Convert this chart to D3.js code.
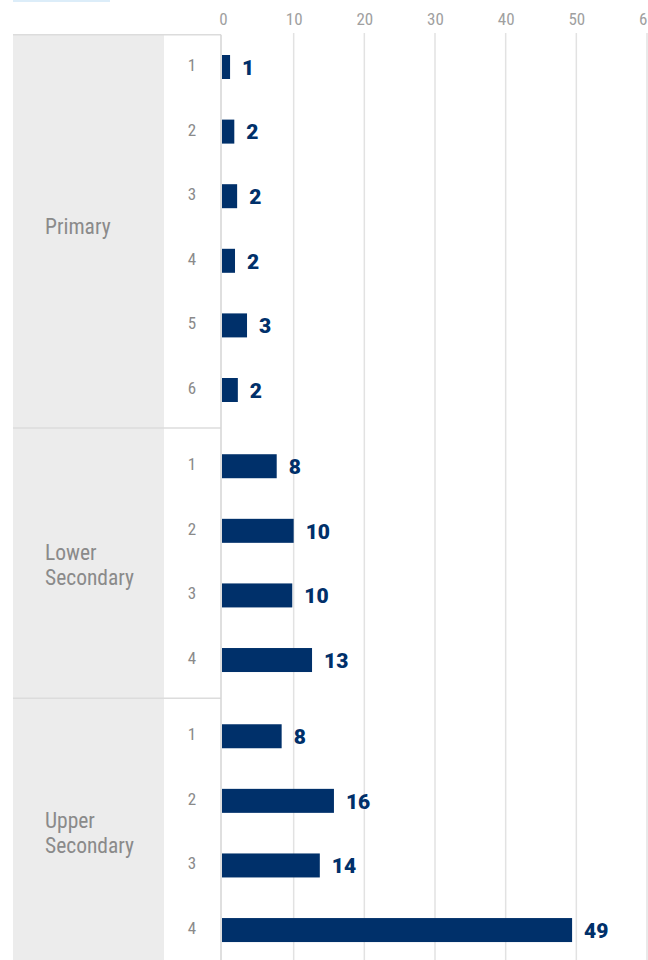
<!DOCTYPE html>
<html><head><meta charset="utf-8">
<script src="https://cdn.jsdelivr.net/npm/d3@7"></script>
<style>
body{margin:0;background:#fff;}
svg{display:block;}
.cond{font-family:"Roboto Condensed","Liberation Sans Narrow","DejaVu Sans Condensed",sans-serif;}
.val{font-family:Roboto,"Liberation Sans",sans-serif;font-weight:900;}
</style>
</head><body>
<svg id="c" width="648" height="960"></svg>
<script>
const groups = ["Primary", "Lower Secondary", "Upper Secondary"];
const groupOf = [0,0,0,0,0,0, 1,1,1,1, 2,2,2,2];
const grades = ["1","2","3","4","5","6","1","2","3","4","1","2","3","4"];
const values = [1.0, 1.6, 2.0, 1.7, 3.4, 2.1, 7.6, 10.0, 9.8, 12.6, 8.3, 15.7, 13.7, 49.4];
const ticks = [0, 10, 20, 30, 40, 50, 60];

const svg = d3.select("#c");
const navy = "#00306a";
const x = d3.scaleLinear().domain([0, 60]).range([223, 647]);
const gapFrac = 0.18;
const pos = (i, g) => i + g * gapFrac;
const y = d3.scaleLinear().domain([0, 1]).range([67, 67 + 64.6]);
const barH = 24;

// top light blue strip
svg.append("rect").attr("x", 13).attr("y", 0).attr("width", 97).attr("height", 2).attr("fill", "#dcedf9");

// group bounds
const gBounds = groups.map((g, gi) => {
  const idx = groupOf.map((d, i) => d === gi ? i : -1).filter(i => i >= 0);
  const top = y(pos(idx[0], gi) - 0.5 - (gi > 0 ? gapFrac / 2 : 0));
  const bot = y(pos(idx[idx.length - 1], gi) + 0.5 + (gi < groups.length - 1 ? gapFrac / 2 : 0));
  return {name: g, top, bot: gi === groups.length - 1 ? 970 : bot};
});

// grey label band
svg.append("rect").attr("x", 13).attr("y", gBounds[0].top).attr("width", 151).attr("height", 960 - gBounds[0].top).attr("fill", "#ececec");

// gridlines
svg.selectAll("line.grid").data(ticks.filter(t => t > 0)).join("line")
  .attr("x1", d => x(d)).attr("x2", d => x(d))
  .attr("y1", 33).attr("y2", 960)
  .attr("stroke", "#e2e2e2").attr("stroke-width", 1.5);

// group separators
svg.selectAll("line.sep").data(gBounds).join("line")
  .attr("x1", 13).attr("x2", 221)
  .attr("y1", d => d.top).attr("y2", d => d.top)
  .attr("stroke", "#dcdcdc").attr("stroke-width", 1.5);

// axis vertical line
svg.append("line").attr("x1", 221).attr("x2", 221).attr("y1", gBounds[0].top).attr("y2", 960)
  .attr("stroke", "#d4d4d4").attr("stroke-width", 1.5);

// top axis tick labels
const axis = d3.axisTop(x).tickValues(ticks).tickSize(0).tickPadding(0).tickFormat(d3.format("d"));
const ax = svg.append("g").attr("transform", "translate(0,25)").call(axis);
ax.select(".domain").remove();
ax.selectAll("text").attr("class", "cond").attr("fill", "#a0a0a0").style("font-size", "17px").attr("font-family", null);

// group labels
gBounds.forEach((gb, gi) => {
  const words = gb.name.split(" ");
  const mid = gi === groups.length - 1 ? 831 : (gb.top + gb.bot) / 2;
  const cy = words.length === 1 ? mid - 5 : mid + 2;
  const lh = 25;
  const t = svg.append("text").attr("class", "cond").attr("fill", "#8a8a8a").style("font-size", "21.5px")
    .attr("x", 45);
  words.forEach((w, k) => {
    t.append("tspan").attr("x", 45)
      .attr("y", cy + (k - (words.length - 1) / 2) * lh)
      .attr("dy", "0.35em").text(w);
  });
});

// grade labels
svg.selectAll("text.grade").data(values).join("text")
  .attr("class", "cond").attr("fill", "#8a8a8a").style("font-size", "17px")
  .attr("text-anchor", "middle")
  .attr("x", 192).attr("y", (d, i) => y(pos(i, groupOf[i])) - 2).attr("dy", "0.35em")
  .text((d, i) => grades[i]);

// bars
svg.selectAll("rect.bar").data(values).join("rect")
  .attr("x", x(0) - 1).attr("y", (d, i) => y(pos(i, groupOf[i])) - barH / 2)
  .attr("width", d => x(d) - x(0) + 1).attr("height", barH).attr("fill", navy);

// value labels
svg.selectAll("text.val").data(values).join("text")
  .attr("class", "val").attr("fill", navy).style("font-size", "21px")
  .attr("x", d => x(d) + 12).attr("y", (d, i) => y(pos(i, groupOf[i])) + 0.5).attr("dy", "0.35em")
  .text(d => d3.format(".0f")(d));
</script>
</body></html>
